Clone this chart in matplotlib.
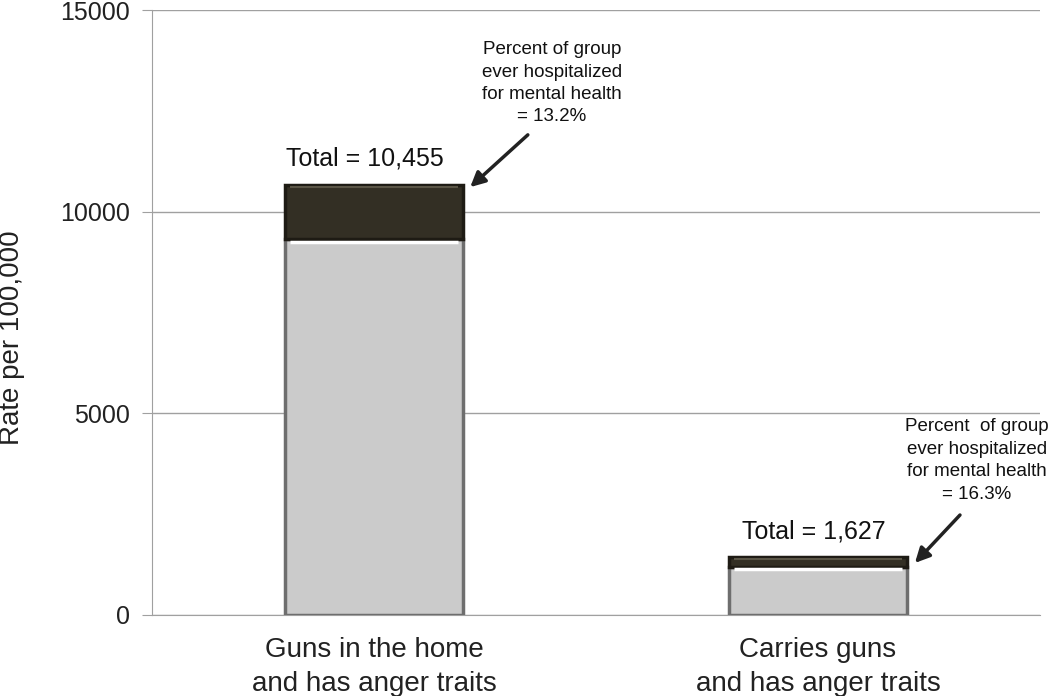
import matplotlib
matplotlib.use("Agg")
import matplotlib.pyplot as plt

categories = ["Guns in the home\nand has anger traits", "Carries guns\nand has anger traits"]
not_hospitalized = [9320, 1190]
hospitalized = [1340, 250]
totals_text = ["Total = 10,455", "Total = 1,627"]
pct_text = ["Percent of group\never hospitalized\nfor mental health\n= 13.2%",
            "Percent  of group\never hospitalized\nfor mental health\n= 16.3%"]

plt.rcParams['font.family'] = ['Liberation Sans', 'DejaVu Sans']

fig = plt.figure(figsize=(10.5, 6.96), dpi=100)
ax = fig.add_axes([0.1448, 0.1164, 0.9905 - 0.1448, 0.9856 - 0.1164])

x = list(range(len(categories)))
w = 0.40
ax.bar(x, not_hospitalized, width=w, color='#cbcbcb', edgecolor='#6e6e6e', linewidth=2.5, zorder=3)
ax.bar(x, hospitalized, bottom=not_hospitalized, width=w, color='#332f24', edgecolor='#1e1b14',
       linewidth=2.5, zorder=3)
# bevel highlights
for xi, b, h in zip(x, not_hospitalized, hospitalized):
    ax.plot([xi - w / 2 + 0.01, xi + w / 2 - 0.01], [b - 60, b - 60], color='white', lw=2.5, zorder=4,
            solid_capstyle='butt')
    ax.plot([xi - w / 2 + 0.01, xi + w / 2 - 0.01], [b + h - 60, b + h - 60], color='#5a5546', lw=1.5,
            zorder=4, solid_capstyle='butt')

ax.set_xlim(-0.5, 1.5)
ax.set_ylim(0, 15000)
ax.set_yticks([0, 5000, 10000, 15000])
ax.yaxis.grid(True, color='#a0a0a0', linewidth=1)
ax.set_axisbelow(True)
for s in ['top', 'right']:
    ax.spines[s].set_visible(False)
ax.spines['bottom'].set_color('#a0a0a0')
ax.spines['left'].set_color('#a0a0a0')
ax.tick_params(axis='y', labelsize=18, length=7, color='#a0a0a0', labelcolor='#222222', pad=9)
ax.tick_params(axis='x', length=0, labelsize=20, labelcolor='#222222', pad=16)
ax.set_xticks(x)
ax.set_xticklabels(categories, linespacing=1.38)

fig.text(12 / 1050, 1 - 338 / 696, "Rate per 100,000", rotation=90, ha='center', va='center',
         fontsize=20, color='#222222')

ax.text(-0.02, 11330, totals_text[0], ha='center', va='center', fontsize=18, color='#111111')
ax.text(0.991, 2058, totals_text[1], ha='center', va='center', fontsize=18, color='#111111')

ax.text(0.401, 14230, pct_text[0], ha='center', va='top', fontsize=13.5, color='#111111', linespacing=1.42)
ax.text(1.358, 4880, pct_text[1], ha='center', va='top', fontsize=13.5, color='#111111', linespacing=1.42)

ax.annotate("", xy=(0.212, 10563), xytext=(0.351, 11951),
            arrowprops=dict(arrowstyle='-|>', color='#222222', lw=2.5, mutation_scale=22))
ax.annotate("", xy=(1.214, 1240), xytext=(1.324, 2529),
            arrowprops=dict(arrowstyle='-|>', color='#222222', lw=2.5, mutation_scale=22))

fig.savefig("out.png", dpi=100)
